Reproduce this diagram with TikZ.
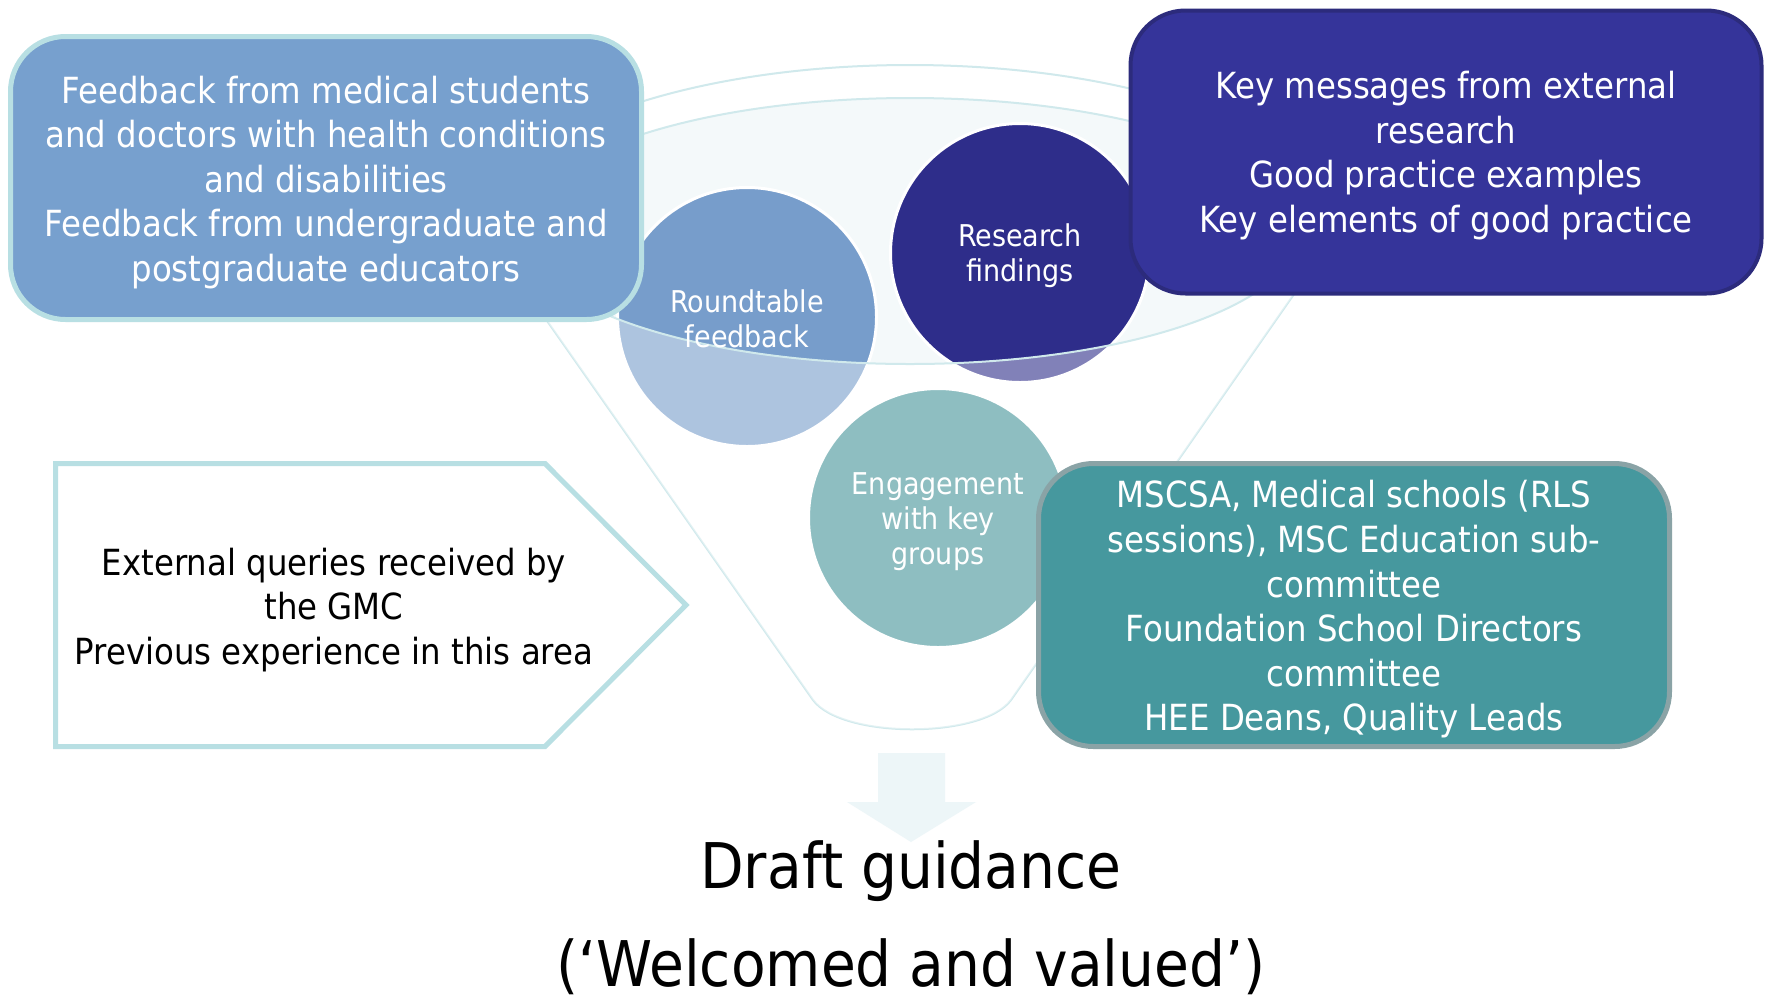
\documentclass[tikz,border=0pt]{standalone}
\usepackage{fontspec}
\setmainfont{DejaVu Sans}[FakeStretch=0.9]
\definecolor{lbfill}{HTML}{77A0CE}
\definecolor{lbborder}{HTML}{B8DFE3}
\definecolor{trfill}{HTML}{35349A}
\definecolor{trborder}{HTML}{2C2B7C}
\definecolor{brfill}{HTML}{46989E}
\definecolor{brborder}{HTML}{8AA3A6}
\definecolor{cone}{HTML}{779DCB}
\definecolor{ctwo}{HTML}{2E2D8A}
\definecolor{cthree}{HTML}{449499}
\definecolor{funnel}{HTML}{D0E9EC}
\definecolor{rimfill}{HTML}{F4F9FA}
\definecolor{arrowc}{HTML}{EDF6F8}
\begin{document}
\begin{tikzpicture}[x=0.5pt,y=-0.5pt,
  box/.style={draw, rounded corners=27.5pt, minimum width=315.5pt, minimum height=141.5pt,
    inner sep=0pt, line width=2.5pt},
  boxtext/.style={inner sep=0pt, align=center, text=white, font=\fontsize{18}{22.3}\selectfont},
  bubble/.style={circle, draw=white, line width=1.5pt, minimum size=129.5pt, inner sep=0pt},
  bubbletext/.style={inner sep=0pt, align=center, text=white, font=\fontsize{15}{17.5}\selectfont},
  funnelline/.style={draw=funnel, line width=1pt},
  bigtext/.style={anchor=base, text=black, font=\fontsize{31.5}{40}\selectfont},
]
\fill[white] (0,0) rectangle (1771,997);
\useasboundingbox (0,0) rectangle (1771,997);

% funnel rim (back)
\fill[rimfill] (910,231) ellipse [x radius=390, y radius=133];
\begin{scope}
  \clip (0,0) rectangle (1771,231);
  \draw[funnelline] (910,231) ellipse [x radius=428, y radius=166];
  \draw[funnelline] (910,231) ellipse [x radius=390, y radius=133];
\end{scope}

% funnel body
\coordinate (fl) at (484,231);
\coordinate (flb) at (813,700);
\coordinate (frb) at (1011,700);
\coordinate (fr) at (1338,231);
\draw[funnelline] (fl) -- (flb) .. controls (842,739) and (982,739) .. (frb) -- (fr);

% circles
\node[bubble, fill=cone] (rt) at (747,317) {};
\node[bubble, fill=ctwo] (rf) at (1020,253) {};
\node[bubble, fill=cthree] (eg) at (938,518) {};

% light overlay of funnel body
\begin{scope}
  \clip (fl) -- (flb) .. controls (842,739) and (982,739) .. (frb) -- (fr) -- cycle;
  \clip (0,231) rectangle (1771,997);
  \fill[white, fill opacity=0.4, even odd rule] (0,0) rectangle (1771,997)
     (910,231) ellipse [x radius=390, y radius=133];
\end{scope}
\begin{scope}
  \clip (0,231) rectangle (1771,997);
  \draw[funnelline] (910,231) ellipse [x radius=390, y radius=133];
\end{scope}

% circle labels
\node[bubbletext] (rtt) at ([yshift=-0.8pt]rt.center) {Roundtable\\feedback};
\node[bubbletext] (rft) at ([yshift=-1.6pt]rf.center) {Research\\findings};
\node[bubbletext] (egt) at ([yshift=-1.6pt]eg.center) {Engagement\\with key\\groups};

% down arrow
\fill[arrowc] (878,753) -- (945,753) -- (945,802) -- (976,802) -- (911,842)
   -- (847,802) -- (878,802) -- cycle;

% boxes
\node[box, fill=lbfill, draw=lbborder] (lb) at (326,178) {};
\node[boxtext] (lbt) at ([yshift=-2.2pt]lb.center)
  {Feedback from medical students\\and doctors with health conditions\\and disabilities\\Feedback from undergraduate and\\postgraduate educators};
\node[box, fill=trfill, draw=trborder, line width=2pt] (tr) at (1446,152) {};
\node[boxtext] (trt) at ([yshift=-1.8pt]tr.center)
  {Key messages from external\\research\\Good practice examples\\Key elements of good practice};
\node[box, fill=brfill, draw=brborder] (br) at (1354,605) {};
\node[boxtext] (brt) at ([yshift=-2.2pt]br.center)
  {MSCSA, Medical schools (RLS\\sessions), MSC Education sub-\\committee\\Foundation School Directors\\committee\\HEE Deans, Quality Leads};

% pentagon
\draw[draw=lbborder, line width=2.5pt, fill=white, line join=miter]
  (55.5,463.5) -- (545,463.5) -- (686,605) -- (545,746.5) -- (55.5,746.5) -- cycle;
\node[boxtext, text=black] (pt) at (334,610)
  {External queries received by\\the GMC\\Previous experience in this area};

% result
\node[bigtext] (dg) at (911,888) {Draft guidance};
\node[bigtext] (wv) at (911,986) {(‘Welcomed and valued’)};
\end{tikzpicture}
\end{document}
